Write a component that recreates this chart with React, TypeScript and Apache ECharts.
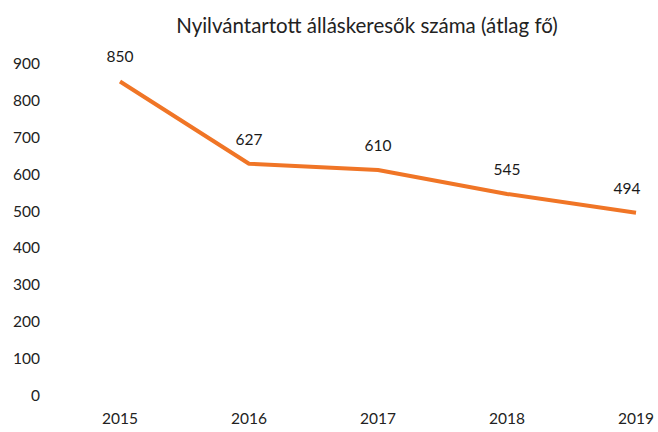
import React, { useEffect, useRef } from "react";
import * as echarts from "echarts";

const categories = ["2015", "2016", "2017", "2018", "2019"];
const values = [850, 627, 610, 545, 494];
const title = "Nyilvántartott álláskeresők száma (átlag fő)";

export default function App() {
  const ref = useRef<HTMLDivElement>(null);
  useEffect(() => {
    if (!ref.current) return;
    const chart = echarts.init(ref.current, null, { renderer: "svg" });
    const font = "Lato, 'Open Sans', sans-serif";
    const seriesData = values.map((v, i) =>
      i === values.length - 1 ? { value: v, label: { offset: [-9, 0] } } : v
    );
    chart.setOption({
      animation: false,
      backgroundColor: "#ffffff",
      title: {
        text: title,
        left: 362,
        textAlign: "center",
        top: 9,
        textStyle: { fontFamily: font, fontSize: 20.5, fontWeight: "normal", color: "#222" },
      },
      grid: { left: 120, right: 22, top: 63, bottom: 37 },
      xAxis: {
        type: "category",
        data: categories,
        boundaryGap: false,
        axisLine: { show: false },
        axisTick: { show: false },
        axisLabel: { fontFamily: font, fontSize: 15.5, color: "#222", margin: 15 },
      },
      yAxis: {
        type: "value",
        min: 0,
        max: 900,
        interval: 100,
        splitLine: { show: false },
        axisLine: { show: false },
        axisTick: { show: false },
        axisLabel: { fontFamily: font, fontSize: 15.5, color: "#222", margin: 80 },
      },
      series: [
        {
          type: "line",
          data: seriesData,
          showSymbol: true,
          symbol: "circle",
          symbolSize: 0.1,
          itemStyle: { color: "#f07526" },
          lineStyle: { color: "#f07526", width: 4 },
          label: {
            show: true,
            position: "top",
            distance: 17,
            fontFamily: font,
            fontSize: 15.5,
            color: "#1a1a1a",
          },
        },
      ],
    });
    return () => chart.dispose();
  }, []);
  return <div ref={ref} style={{ width: 658, height: 432, position: "absolute", left: 0, top: 0 }} />;
}
